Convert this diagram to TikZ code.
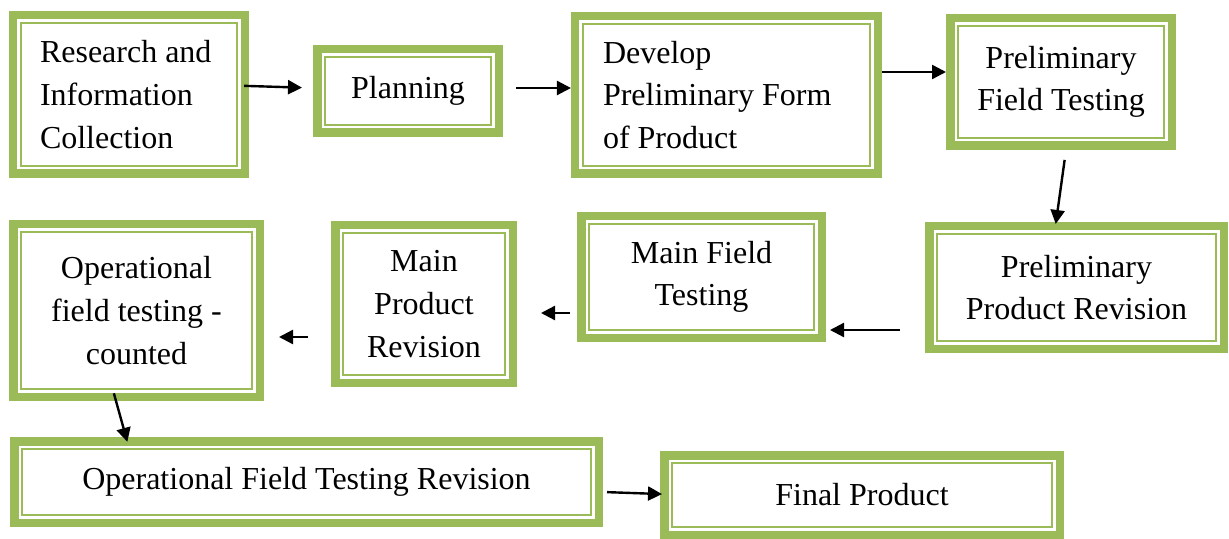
\documentclass[tikz,border=0pt]{standalone}
\usepackage{fontspec}
\setmainfont{Liberation Serif}
\usetikzlibrary{arrows.meta}

\begin{document}
\begin{tikzpicture}[
    x=0.5pt,
    y=-0.5pt,
    font=\fontsize{16}{21.3}\selectfont,
    stage/.style={
        draw=stagegreen,
        line width=4.25pt,
        fill=white,
        inner sep=0pt,
        align=center,
        path picture={
            \draw[stagegreen, line width=1.3pt]
                ([shift={(3.9pt,-3.9pt)}]path picture bounding box.north west)
                rectangle
                ([shift={(-3.9pt,3.9pt)}]path picture bounding box.south east);
        }
    },
    flow/.style={draw=black, line width=1.2pt, -{Triangle[length=7pt,width=7pt]}}
]

\definecolor{stagegreen}{RGB}{155,187,89}

\path[use as bounding box] (0,0) rectangle (1229,539);

% First row, left to right.
\node[stage, minimum width=115.75pt, minimum height=79.25pt,
      align=flush left, text width=89pt, inner xsep=13.4pt] (research) at (129,94.5)
    {Research and\\Information\\Collection};
\node[stage, minimum width=90.75pt, minimum height=41.75pt] (planning) at (408,91)
    {Planning};
\node[stage, minimum width=151.25pt, minimum height=78.75pt,
      align=flush left, text width=123.5pt, inner xsep=13.9pt] (develop) at (726.5,95)
    {Develop\\Preliminary Form\\of Product};
\node[stage, minimum width=110.75pt, minimum height=63.75pt] (fieldtest) at (1061,82)
    {Preliminary\\Field Testing};

% Second row, right to left.
\node[stage, minimum width=147.25pt, minimum height=61.25pt] (prelimrev) at (1076.5,287.5)
    {Preliminary\\Product Revision};
\node[stage, minimum width=120.25pt, minimum height=60.75pt] (mainfield) at (701.5,277)
    {Main Field\\Testing};
\node[stage, minimum width=88.75pt, minimum height=78.75pt] (mainrev) at (424,304)
    {Main\\Product\\Revision};
\node[stage, minimum width=123.25pt, minimum height=86.25pt] (opfield) at (136.5,310.5)
    {Operational\\field testing -\\counted};

% Last row.
\node[stage, minimum width=292.25pt, minimum height=40.75pt] (oprev) at (306.5,482)
    {Operational Field Testing Revision};
\node[stage, minimum width=197.75pt, minimum height=39.75pt] (final) at (862,495)
    {Final Product};

% Connectors between the stages.
\draw[flow, shorten <=-2.5pt, shorten >=5.5pt]
    ([yshift=4.25pt]research.east) -- ([yshift=1.5pt]planning.west);
\draw[flow, shorten <=6.5pt]
    ([yshift=1.5pt]planning.east) -- ([yshift=3.5pt]develop.west);
\draw[flow]
    ([yshift=11.5pt]develop.east) -- ([yshift=5pt]fieldtest.west);
\draw[flow, shorten <=5pt, shorten >=-1pt]
    ([xshift=2.5pt]fieldtest.south) -- ([xshift=-10.25pt]prelimrev.north);
\draw[flow, shorten <=12.5pt, shorten >=2pt]
    ([yshift=-21.25pt]prelimrev.west) -- ([yshift=-26.5pt]mainfield.east);
\draw[flow, shorten <=3.5pt, shorten >=12pt]
    ([yshift=-18pt]mainfield.west) -- ([yshift=-4.5pt]mainrev.east);
\draw[flow, shorten <=11.5pt, shorten >=7.5pt]
    ([yshift=-16.5pt]mainrev.west) -- ([yshift=-13.25pt]opfield.east);
\draw[flow, shorten <=-4pt, shorten >=-2.5pt]
    ([xshift=-10.25pt]opfield.south) -- ([xshift=-90.25pt]oprev.north);
\draw[flow, shorten <=2pt, shorten >=-1pt]
    ([yshift=-5pt]oprev.east) -- ([yshift=0.5pt]final.west);

\end{tikzpicture}
\end{document}
